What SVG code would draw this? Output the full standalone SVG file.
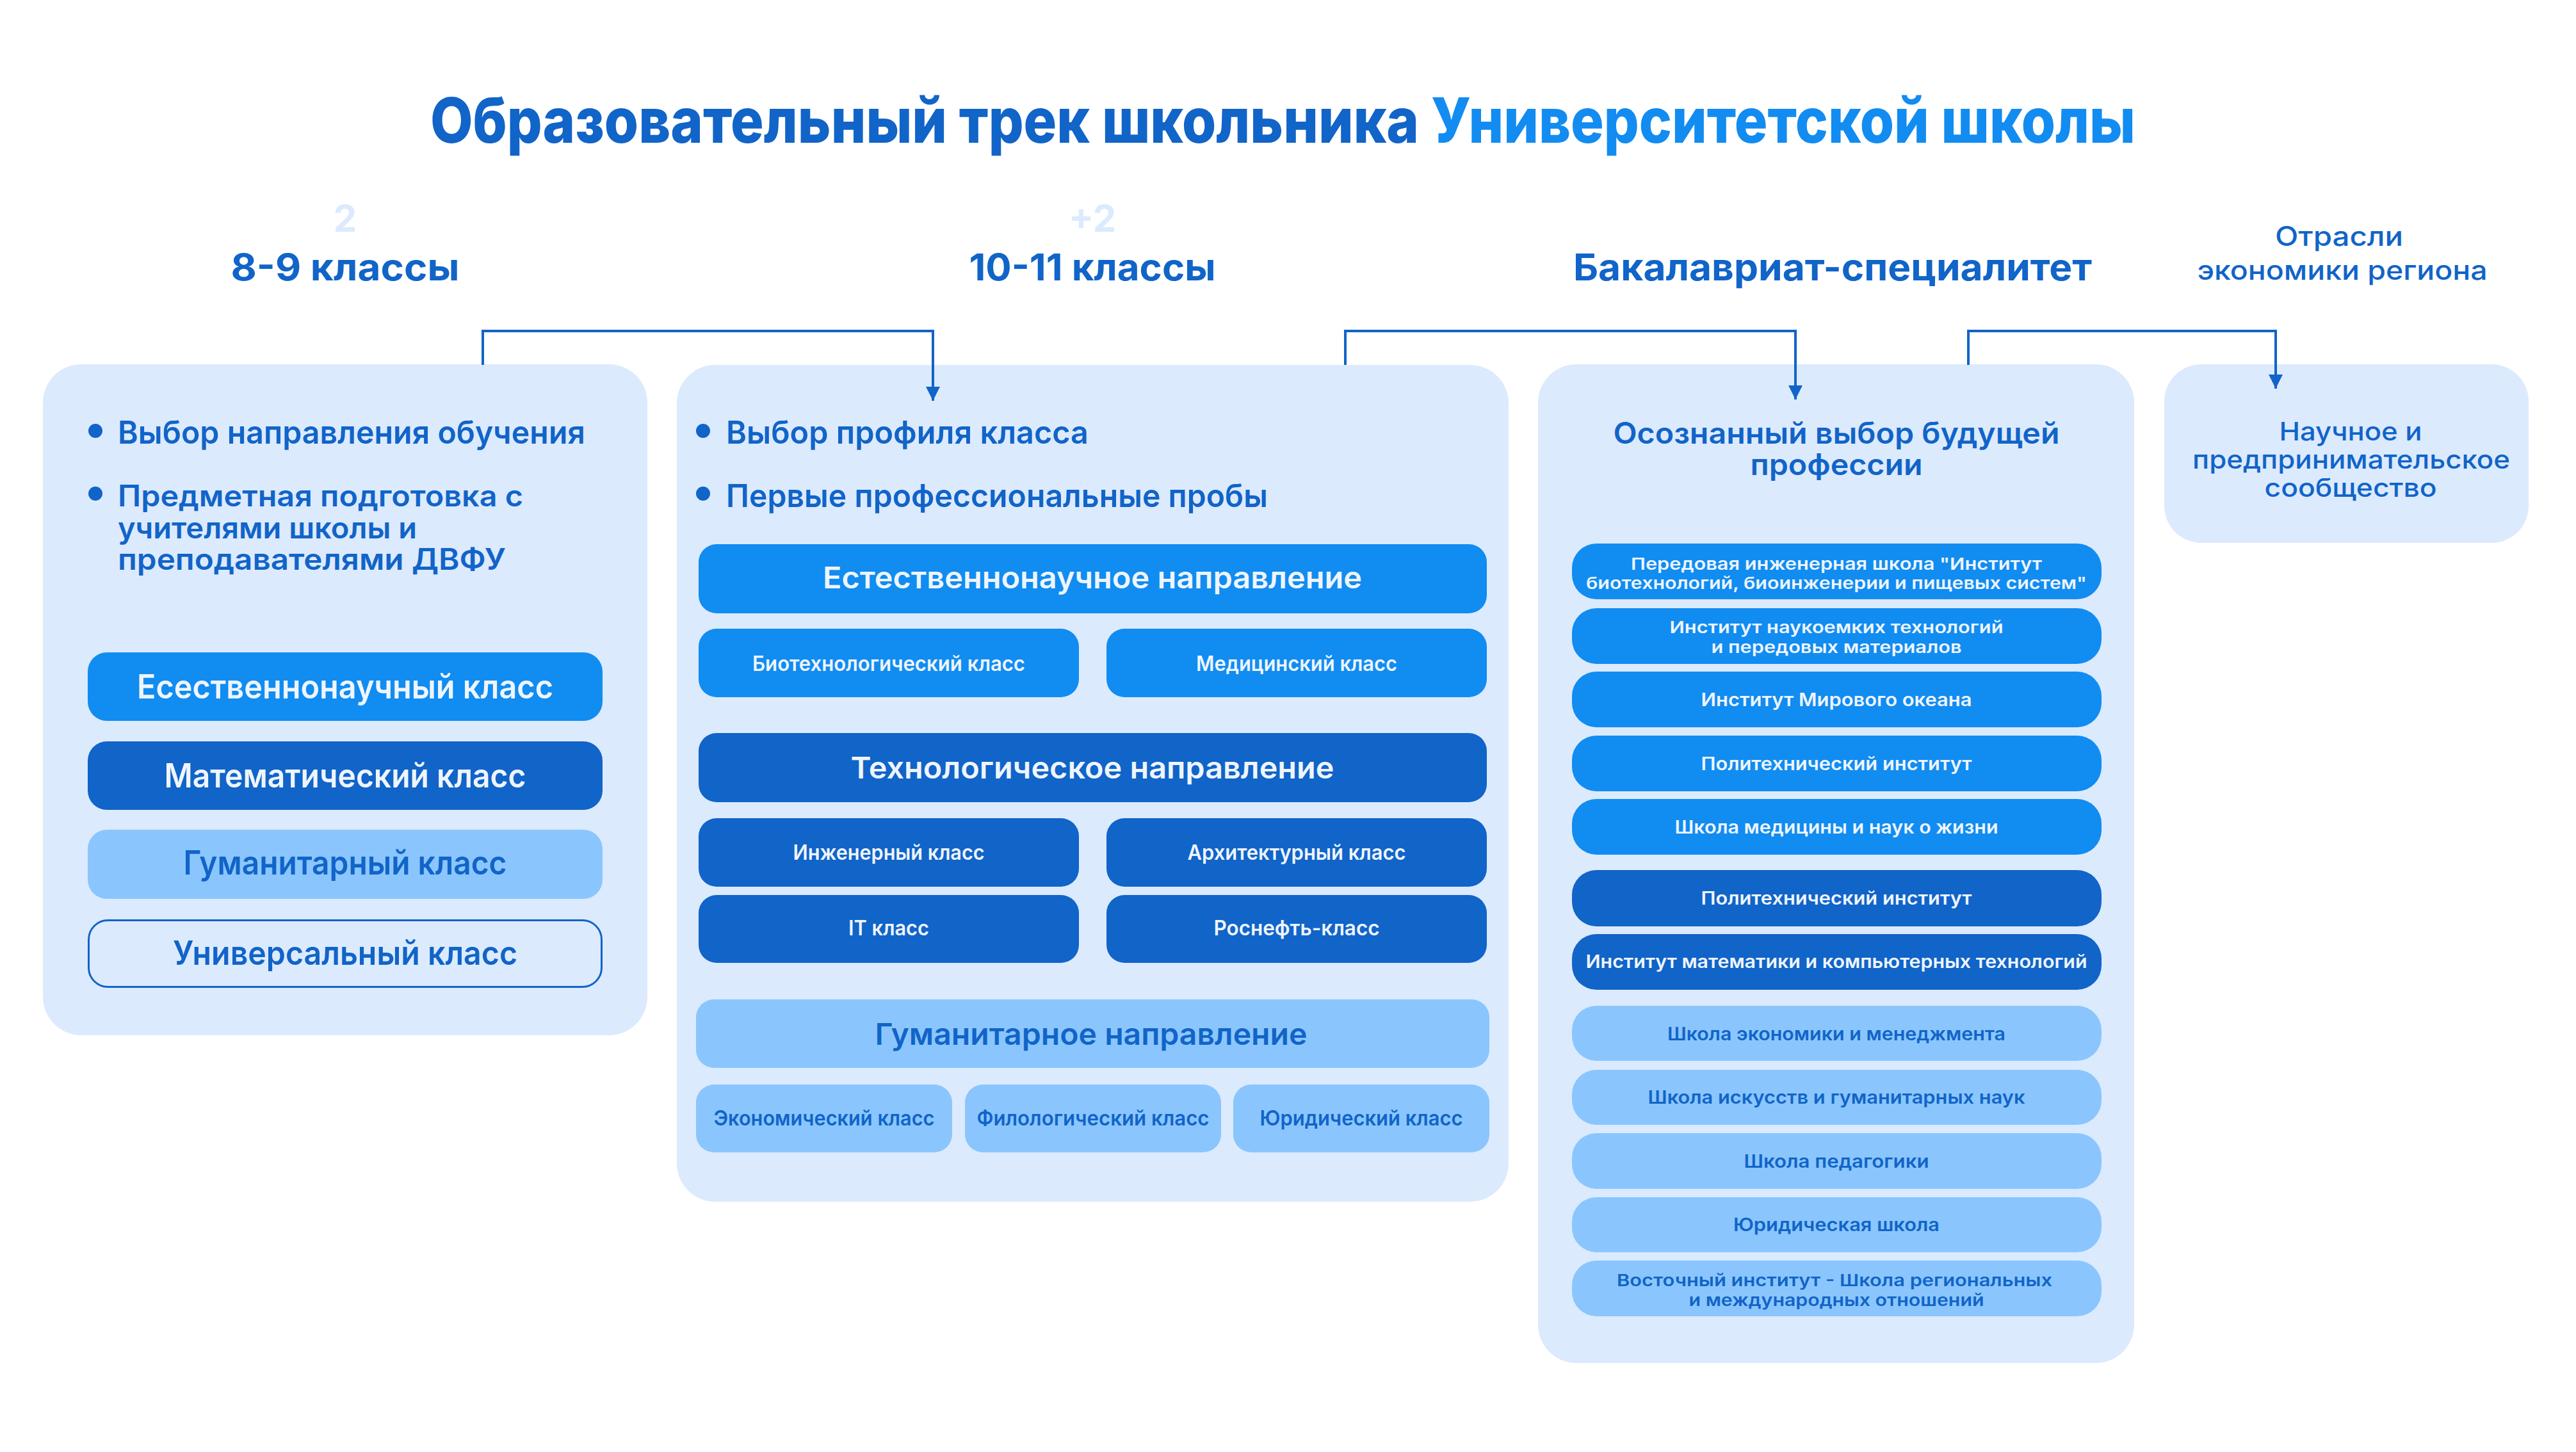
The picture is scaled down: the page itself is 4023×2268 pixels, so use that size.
<svg xmlns="http://www.w3.org/2000/svg" width="4023" height="2268" viewBox="0 0 4023 2268">
<defs>
<style>
text{font-family:Inter,"Open Sans","Liberation Sans",sans-serif;text-anchor:middle}
.l{text-anchor:start}
.panel{fill:#dceafd}
.b1{fill:#118cf1}
.b2{fill:#1164c8}
.b3{fill:#8ac6fd}
.dk{fill:#1164c8}
.wh{fill:#eef5fe}
.ttl{font-size:98px;font-weight:800}
.h{font-size:58px;font-weight:700;fill:#1164c8}
.num{font-size:58px;font-weight:700;fill:#dceafd}
.sub{font-size:42px;font-weight:500;fill:#1164c8}
.sub2{font-size:40px;font-weight:500;fill:#1164c8}
.bul{font-size:50px;font-weight:600;fill:#1164c8}
.bul2{font-size:46px;font-weight:600;fill:#1164c8}
.big{font-size:52px;font-weight:600}
.dir{font-size:47px;font-weight:600}
.cls{font-size:32px;font-weight:600}
.it{font-size:28px;font-weight:600}
.it2{font-size:26px;font-weight:600}
.conn{fill:none;stroke:#1164c8;stroke-width:4}
</style>
<marker id="arr" markerUnits="userSpaceOnUse" markerWidth="22" markerHeight="22" viewBox="0 0 10 10" refX="10" refY="5" orient="auto"><path d="M0,0 L10,5 L0,10 z" fill="#1164c8"/></marker>
</defs>
<rect width="4023" height="2268" fill="#ffffff"/>

<g id="title">
<text class="l ttl" x="672" y="223" fill="#1164c8" textLength="2663" lengthAdjust="spacingAndGlyphs">Образовательный трек школьника <tspan fill="#128cf1">Университетской школы</tspan></text>
</g>

<g id="header-8-9">
<text class="num" x="539" y="362">2</text>
<text class="h" x="539" y="438" textLength="357" lengthAdjust="spacingAndGlyphs">8-9 классы</text>
</g>
<g id="header-10-11">
<text class="num" x="1706" y="362">+2</text>
<text class="h" x="1706" y="438" textLength="385" lengthAdjust="spacingAndGlyphs">10-11 классы</text>
</g>
<g id="header-bachelor">
<text class="h" x="2862" y="438" textLength="810" lengthAdjust="spacingAndGlyphs">Бакалавриат-специалитет</text>
</g>
<g id="header-industry">
<text class="sub" x="3653" y="384" textLength="200" lengthAdjust="spacingAndGlyphs">Отрасли</text>
<text class="sub" x="3658" y="437" textLength="453" lengthAdjust="spacingAndGlyphs">экономики региона</text>
</g>

<g id="panel-8-9">
<rect class="panel" x="67" y="569" width="944" height="1048" rx="60"/>
<circle class="dk" cx="149" cy="673" r="11"/>
<text class="l bul" x="184" y="693" textLength="730" lengthAdjust="spacingAndGlyphs">Выбор направления обучения</text>
<circle class="dk" cx="149" cy="771" r="11"/>
<text class="l bul2" x="184" y="791" textLength="633" lengthAdjust="spacingAndGlyphs">Предметная подготовка с</text>
<text class="l bul2" x="184" y="841" textLength="467" lengthAdjust="spacingAndGlyphs">учителями школы и</text>
<text class="l bul2" x="184" y="890" textLength="606" lengthAdjust="spacingAndGlyphs">преподавателями ДВФУ</text>
</g>
<g id="class-natural">
<rect class="b1" x="137" y="1019" width="804" height="107" rx="30"/>
<text class="big wh" x="539" y="1091" textLength="650" lengthAdjust="spacingAndGlyphs">Есественнонаучный класс</text>
</g>
<g id="class-math">
<rect class="b2" x="137" y="1158" width="804" height="107" rx="30"/>
<text class="big wh" x="539" y="1230" textLength="565" lengthAdjust="spacingAndGlyphs">Математический класс</text>
</g>
<g id="class-human">
<rect class="b3" x="137" y="1296" width="804" height="108" rx="30"/>
<text class="big dk" x="539" y="1366" textLength="505" lengthAdjust="spacingAndGlyphs">Гуманитарный класс</text>
</g>
<g id="class-universal">
<rect x="138.5" y="1437.5" width="801" height="104" rx="30" fill="#dceafd" stroke="#1164c8" stroke-width="3"/>
<text class="big dk" x="539" y="1507" textLength="538" lengthAdjust="spacingAndGlyphs">Универсальный класс</text>
</g>

<g id="panel-10-11">
<rect class="panel" x="1057" y="570" width="1299" height="1307" rx="60"/>
<circle class="dk" cx="1098" cy="673" r="11"/>
<text class="l bul" x="1134" y="693" textLength="566" lengthAdjust="spacingAndGlyphs">Выбор профиля класса</text>
<circle class="dk" cx="1098" cy="771" r="11"/>
<text class="l bul" x="1134" y="792" textLength="846" lengthAdjust="spacingAndGlyphs">Первые профессиональные пробы</text>
</g>
<g id="dir-natural">
<rect class="b1" x="1091" y="850" width="1231" height="108" rx="28"/>
<text class="dir wh" x="1706" y="919" textLength="842" lengthAdjust="spacingAndGlyphs">Естественнонаучное направление</text>
</g>
<g id="cls-bio">
<rect class="b1" x="1091" y="982" width="594" height="107" rx="28"/>
<text class="cls wh" x="1388" y="1048" textLength="426" lengthAdjust="spacingAndGlyphs">Биотехнологический класс</text>
</g>
<g id="cls-med">
<rect class="b1" x="1728" y="982" width="594" height="107" rx="28"/>
<text class="cls wh" x="2025" y="1048" textLength="314" lengthAdjust="spacingAndGlyphs">Медицинский класс</text>
</g>
<g id="dir-tech">
<rect class="b2" x="1091" y="1145" width="1231" height="108" rx="28"/>
<text class="dir wh" x="1706" y="1216" textLength="755" lengthAdjust="spacingAndGlyphs">Технологическое направление</text>
</g>
<g id="cls-eng">
<rect class="b2" x="1091" y="1278" width="594" height="107" rx="28"/>
<text class="cls wh" x="1388" y="1343" textLength="299" lengthAdjust="spacingAndGlyphs">Инженерный класс</text>
</g>
<g id="cls-arch">
<rect class="b2" x="1728" y="1278" width="594" height="107" rx="28"/>
<text class="cls wh" x="2025" y="1343" textLength="341" lengthAdjust="spacingAndGlyphs">Архитектурный класс</text>
</g>
<g id="cls-it">
<rect class="b2" x="1091" y="1398" width="594" height="106" rx="28"/>
<text class="cls wh" x="1388" y="1461" textLength="126" lengthAdjust="spacingAndGlyphs">IT класс</text>
</g>
<g id="cls-rosneft">
<rect class="b2" x="1728" y="1398" width="594" height="106" rx="28"/>
<text class="cls wh" x="2025" y="1461" textLength="259" lengthAdjust="spacingAndGlyphs">Роснефть-класс</text>
</g>
<g id="dir-human">
<rect class="b3" x="1087" y="1561" width="1239" height="107" rx="28"/>
<text class="dir dk" x="1704" y="1632" textLength="675" lengthAdjust="spacingAndGlyphs">Гуманитарное направление</text>
</g>
<g id="cls-econ">
<rect class="b3" x="1087" y="1694" width="400" height="106" rx="28"/>
<text class="cls dk" x="1287" y="1758" textLength="345" lengthAdjust="spacingAndGlyphs">Экономический класс</text>
</g>
<g id="cls-phil">
<rect class="b3" x="1507" y="1694" width="400" height="106" rx="28"/>
<text class="cls dk" x="1707" y="1758" textLength="363" lengthAdjust="spacingAndGlyphs">Филологический класс</text>
</g>
<g id="cls-law">
<rect class="b3" x="1926" y="1694" width="400" height="106" rx="28"/>
<text class="cls dk" x="2126" y="1758" textLength="317" lengthAdjust="spacingAndGlyphs">Юридический класс</text>
</g>

<g id="panel-bachelor">
<rect class="panel" x="2402" y="569" width="931" height="1560" rx="60"/>
<text class="bul2" x="2868" y="693" textLength="697" lengthAdjust="spacingAndGlyphs">Осознанный выбор будущей</text>
<text class="bul2" x="2868" y="742" textLength="269" lengthAdjust="spacingAndGlyphs">профессии</text>
</g>
<g id="u1">
<rect class="b1" x="2455" y="849" width="827" height="87" rx="38"/>
<text class="it2 wh" x="2868" y="890" textLength="642" lengthAdjust="spacingAndGlyphs">Передовая инженерная школа "Институт</text>
<text class="it2 wh" x="2868" y="920" textLength="782" lengthAdjust="spacingAndGlyphs">биотехнологий, биоинженерии и пищевых систем"</text>
</g>
<g id="u2">
<rect class="b1" x="2455" y="950" width="827" height="87" rx="38"/>
<text class="it2 wh" x="2868" y="989" textLength="521" lengthAdjust="spacingAndGlyphs">Институт наукоемких технологий</text>
<text class="it2 wh" x="2868" y="1020" textLength="391" lengthAdjust="spacingAndGlyphs">и передовых материалов</text>
</g>
<g id="u3">
<rect class="b1" x="2455" y="1049" width="827" height="87" rx="38"/>
<text class="it wh" x="2868" y="1103" textLength="423" lengthAdjust="spacingAndGlyphs">Институт Мирового океана</text>
</g>
<g id="u4">
<rect class="b1" x="2455" y="1149" width="827" height="87" rx="38"/>
<text class="it wh" x="2868" y="1203" textLength="423" lengthAdjust="spacingAndGlyphs">Политехнический институт</text>
</g>
<g id="u5">
<rect class="b1" x="2455" y="1248" width="827" height="87" rx="38"/>
<text class="it wh" x="2868" y="1302" textLength="505" lengthAdjust="spacingAndGlyphs">Школа медицины и наук о жизни</text>
</g>
<g id="u6">
<rect class="b2" x="2455" y="1359" width="827" height="88" rx="38"/>
<text class="it wh" x="2868" y="1413" textLength="423" lengthAdjust="spacingAndGlyphs">Политехнический институт</text>
</g>
<g id="u7">
<rect class="b2" x="2455" y="1459" width="827" height="87" rx="38"/>
<text class="it wh" x="2868" y="1512" textLength="783" lengthAdjust="spacingAndGlyphs">Институт математики и компьютерных технологий</text>
</g>
<g id="u8">
<rect class="b3" x="2455" y="1571" width="827" height="86" rx="38"/>
<text class="it dk" x="2868" y="1625" textLength="528" lengthAdjust="spacingAndGlyphs">Школа экономики и менеджмента</text>
</g>
<g id="u9">
<rect class="b3" x="2455" y="1671" width="827" height="86" rx="38"/>
<text class="it dk" x="2868" y="1724" textLength="589" lengthAdjust="spacingAndGlyphs">Школа искусств и гуманитарных наук</text>
</g>
<g id="u10">
<rect class="b3" x="2455" y="1770" width="827" height="87" rx="38"/>
<text class="it dk" x="2868" y="1824" textLength="289" lengthAdjust="spacingAndGlyphs">Школа педагогики</text>
</g>
<g id="u11">
<rect class="b3" x="2455" y="1870" width="827" height="86" rx="38"/>
<text class="it dk" x="2868" y="1923" textLength="322" lengthAdjust="spacingAndGlyphs">Юридическая школа</text>
</g>
<g id="u12">
<rect class="b3" x="2455" y="1969" width="827" height="87" rx="38"/>
<text class="it2 dk" x="2865" y="2009" textLength="680" lengthAdjust="spacingAndGlyphs">Восточный институт - Школа региональных</text>
<text class="it2 dk" x="2868" y="2040" textLength="461" lengthAdjust="spacingAndGlyphs">и международных отношений</text>
</g>

<g id="panel-industry">
<rect class="panel" x="3380" y="569" width="569" height="279" rx="58"/>
<text class="sub2" x="3671" y="688" textLength="223" lengthAdjust="spacingAndGlyphs">Научное и</text>
<text class="sub2" x="3672" y="732" textLength="496" lengthAdjust="spacingAndGlyphs">предпринимательское</text>
<text class="sub2" x="3671" y="776" textLength="269" lengthAdjust="spacingAndGlyphs">сообщество</text>
</g>

<g id="connectors">
<path class="conn" d="M754 570 V517 H1457 V626" marker-end="url(#arr)"/>
<path class="conn" d="M2101 570 V517 H2804 V624" marker-end="url(#arr)"/>
<path class="conn" d="M3074 570 V517 H3554 V607" marker-end="url(#arr)"/>
</g>
</svg>
